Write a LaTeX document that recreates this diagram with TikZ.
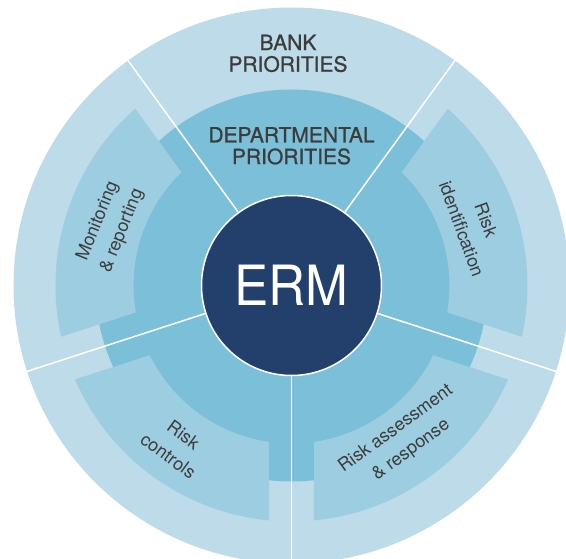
\documentclass[tikz,border=0pt]{standalone}
\usepackage{fontspec}
\setmainfont{TeX Gyre Heros}
\usepackage{graphicx}
\definecolor{outerc}{RGB}{189,219,232}
\definecolor{midc}{RGB}{123,191,216}
\definecolor{bandc}{RGB}{157,205,224}
\definecolor{ermc}{RGB}{35,63,107}
\definecolor{textc}{RGB}{60,60,60}
\newcommand\headfont{\fontsize{21}{21.7}\selectfont\addfontfeature{FakeBold=0.9}}
\newcommand\lblfont{\fontsize{18}{26}\selectfont}
\newcommand\ermfont{\fontsize{55.5}{60}\selectfont}
\begin{document}
\begin{tikzpicture}[x=1pt,y=1pt,
  sepline/.style={draw=white,line width=1.5pt},
  ermnode/.style={circle,fill=ermc,draw=white,line width=1.5pt,minimum size=180pt,inner sep=0pt,text=white,font=\ermfont},
  head/.style={font=\headfont,text=textc,align=center,inner sep=0pt},
  lbl/.style={font=\lblfont,text=textc,align=center,inner sep=0pt}]
\useasboundingbox (-291.5,-272.5) rectangle (274.5,285.5);
\clip (-291.5,-272.5) rectangle (274.5,285.5);
\fill[outerc] (0,0) circle[radius=278];
\fill[midc] (0,0) circle[radius=196];
\foreach \a in {-18,-90,198,126}{
  \pgfmathsetmacro\oa{\a+5.47}
  \pgfmathsetmacro\ob{\a+72-5.47}
  \pgfmathsetmacro\ia{\a+8.19}
  \pgfmathsetmacro\ib{\a+72-8.19}
  \fill[bandc] (\oa:236) arc[start angle=\oa,end angle=\ob,radius=236]
     -- (\ib:158) arc[start angle=\ib,end angle=\ia,radius=158] -- cycle;
}
\node[ermnode] (erm) at (0,0) {\scalebox{0.925}[1]{ERM}};
\foreach \a in {54,126,198,270,342}{
  \coordinate (o\a) at (\a:279);
  \draw[sepline] (erm.\a) -- (o\a);
}
\node[head] (bank) at (-3.5,232.1) {BANK\\PRIORITIES};
\node[head] (dept) at (0,139.7) {\fontsize{21}{20.7}\selectfont DEPARTMENTAL\\PRIORITIES};
\node[lbl,rotate=68] (mon) at (-181.5,59.5) {Monitoring\\\& reporting};
\node[lbl,rotate=-70] (rid) at (182.5,61) {Risk\\identification};
\node[lbl,rotate=-36] (rco) at (-115.5,-159.9) {Risk\\controls};
\node[lbl,rotate=36] (ras) at (112,-154) {Risk assessment\\\& response};
\end{tikzpicture}
\end{document}
